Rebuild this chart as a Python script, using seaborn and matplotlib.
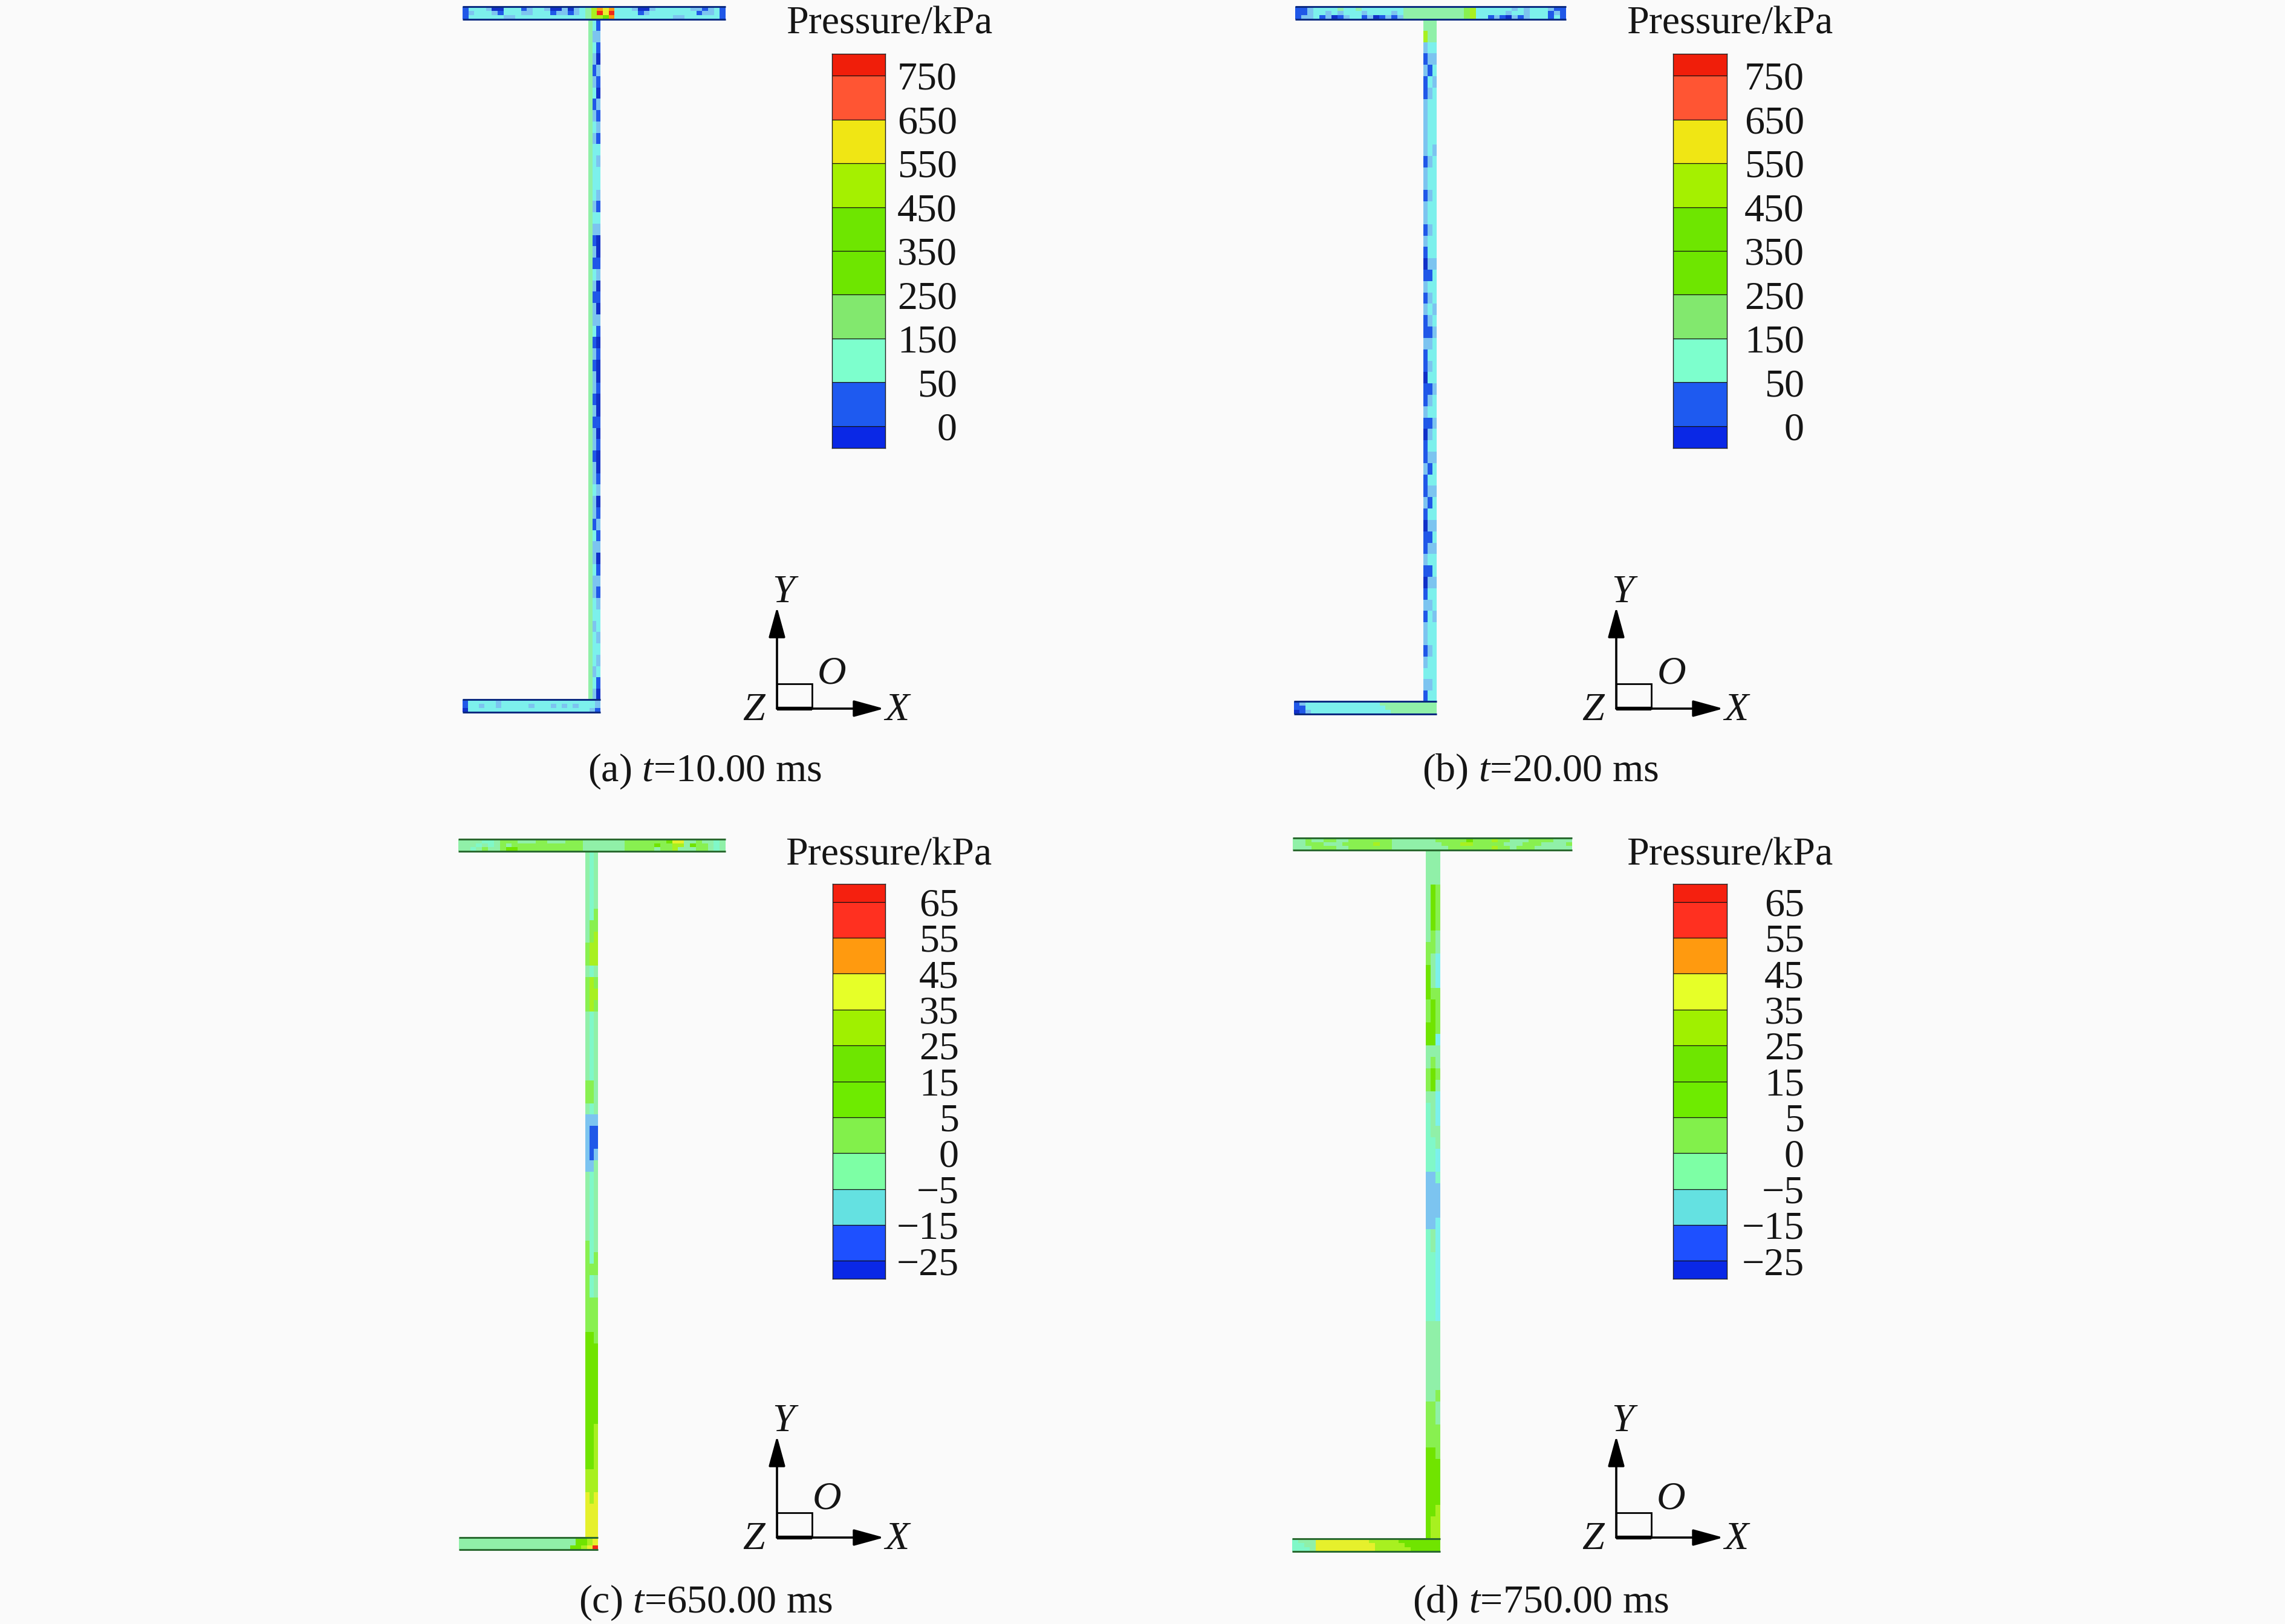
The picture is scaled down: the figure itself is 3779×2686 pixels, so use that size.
import numpy as np
import matplotlib
matplotlib.use("Agg")
import matplotlib.pyplot as plt
from matplotlib.colors import ListedColormap
from matplotlib.patches import Rectangle
from matplotlib.transforms import ScaledTranslation
import seaborn as sns

# -------------------
# DATA
# -------------------
labels_high = ["750", "650", "550", "450", "350", "250", "150", "50", "0"]
labels_low = ["65", "55", "45", "35", "25", "15", "5", "0", "\u22125", "\u221215", "\u221225"]

bands_high = ["#F01E0A", "#FF5533", "#F0E614", "#A5F000", "#6EE600",
              "#6EE600", "#82E86E", "#7DFFCD", "#1E5AF0", "#0A28E6"]
bands_low = ["#F5200F", "#FF3020", "#FF9A0F", "#E6FF28", "#A0F000", "#6EE600",
             "#6EEB00", "#82F04B", "#7DFFA5", "#64E1E1", "#1E50FF", "#0A28E6"]

# field level codes, low pressure to high pressure
field_codes = "DBSCTMGVLYOR"
field_colors = ["#1030C8", "#2058E8", "#7CC4F0", "#7CF0EC", "#80F8C8", "#90F0A8",
                "#88F050", "#70E400", "#A8F020", "#E6F02C", "#FF9A10", "#F02A18"]

# flanges: rows left to right, web: columns top to bottom
top_a = ["BCCCS DDCCC BSCCS DDSDS CMLOY OCCCS DDSCC CCCCS SBSCB",
         "BSCCC SBCCC SSCCC BSSBS CMLRY RCCCC BSCCC CCCCC BSSCB",
         "BCCCC CCSSC CCCCC CCCCC CMLLV OCCCC CCCCC CSSCC CCCCB"]
web_a = ["MMMMMMMMMM MMMMMMMMMM MMMMMMMMMM MMMMMMMMMM MMMMMMMMMM MMMMMMMMMM",
         "CSCSBSCBSC SCCCCCSCSB SBCSBSSCBS BSSBSBSSBS SCSSBCSSCS SCCSCCCSCS",
         "BSBDSBDSBS BCSCCSBCSD DBSDBDSBDB DDBDDBDBDD BSDBSBSDBS BSCCSCSCBD"]
bot_a = ["BCCCC CSCCC CCCCC CCCCC CCCCS",
         "BCCSC CSCCC CCSCC CSCSC SCCCS",
         "DCCCC CCCCC CCCCC CCCCC CCCSB"]

top_b = ["BBSCC CCMCC MCCCC CCCMM MMMMM MMMGL CCCCC CSCSC CCSBB",
         "BBSCC SCSCC CSCCC CSCMM MMMMM MMMGL CCCCC SCCSC CCBSB",
         "BSSCB SDBSC CBSDB SBSMM MMMMM MMMGL CCBSB DSBSC CCBCB"]
web_b = ["MLSBSBBSSS SSBSSBSSBS BDBSBSBBSB BDBBSBDBBS BBSBDBBSBD BSBSSBSCSB",
         "MMCSBCSCCC CCSCCSCCSC CSBCSCSBSC SCBSCBSCSB CSBCSBSCBS CSCCCSCCSC",
         "MMCSCSCCCC CSCCCCCCCC CSCCCSCSCC CCSCCSCCSC CSCCSCSCCS CCSCCCCCCC"]
bot_b = ["BSCCC CCCCC CCCCC MMMMM MMMMM",
         "BBCCC CCCCC CCCCC CMMMM MMMMM",
         "DBSCC CCCCC CCCCC CCMMM MMMMM"]

top_c = ["MMMMT TMGGG MMMGG MMMGG GMMMM MMMGG GGGGG VYYMM GMMTM",
         "MMMTM TMGMG GGGGG GGGGG GMMMM MMMGG GGGVG GLLMV GGMTM",
         "MMTMG MMGVV GGGGG GGGGG GMMMM MMMGG GGGMG GLMMM GGMTM"]
web_c = ["MMMMMMMMGG MGGGMMMMMM GGMSSSSSMM MMMMGGGGGG GGVVVVVVVV VVVVLLYYYY",
         "TTTTTTGGLL TLLLTTTTTT GGTSBBBSTT TTTTTTGTTG GGVVVVVVVV VVVVLLLYYY",
         "MMMMMGGLLL MGLGMMMMMM MMMSBBSMMM MMMMMGGMMG GGGVVVVVVV LLLLLLYYYY"]
bot_c = ["MMMMM MMMMM MMMMM MMMMM MVVLY",
         "MMMMM MMMMM MMMMM MMMMM MVVLY",
         "MMMMM MMMMM MMMMM MMMMM VVLYR"]

top_d = ["MMGMM GGMMG GGGGG GMMMM MMMGG GGGVG GGLGG MMMGG GGMMM",
         "MMGGG MMMGG GGGLG GMMMM MMMMG GGLLG GGGGM MMGGG MMMMG",
         "MMMGG GGMMG GGGGG GMMMM MMMMM GGGGG GGLGG MGGGM MMMMM"]
web_d = ["MMMMMMMMGG VVVGGVVMMG GMTTTTTTSS SSSTTTTTTT TMMMMMMMGG GGVVVVVVVV",
         "MMMVVVVGGM MMGVVVVMGV VMMMMTTTSS SSSMMTTTTT TMMMMMMMGG GGVVVVVVLL",
         "MMMGGGGMMC CCGGGGCMMG MCCCMMCCTS SSCCCCCCCC CMMMMMMGMM GGGVVVVLLL"]
bot_d = ["TMMMY YYYYY YYYLL LLLVV VVVVV",
         "TTMMY YYYYY YYYYL LLLLV VVVVV",
         "TTTMY YYYYY YYYYL LLLLL VVVVV"]

captions = ["(a) $\\mathit{t}$=10.00 ms", "(b) $\\mathit{t}$=20.00 ms",
            "(c) $\\mathit{t}$=650.00 ms", "(d) $\\mathit{t}$=750.00 ms"]

# -------------------
# STYLE
# -------------------
W, H = 3780, 2686
BG = "#FAFAFA"
INK = "#151515"
FS = 47.5

sns.set_theme(style="white")
plt.rcParams["font.family"] = ["Liberation Serif", "DejaVu Serif"]
plt.rcParams["mathtext.fontset"] = "custom"
plt.rcParams["mathtext.it"] = "Liberation Serif:italic"
plt.rcParams["mathtext.rm"] = "Liberation Serif"

fig = plt.figure(figsize=(W / 100, H / 100), dpi=100, facecolor=BG)
field_cmap = ListedColormap(field_colors)


def px_axes(x0, y0, x1, y1):
    # axes from picture pixels, y counted from the top
    ax = fig.add_axes([x0 / W, 1 - y1 / H, (x1 - x0) / W, (y1 - y0) / H])
    ax.patch.set_alpha(0)
    return ax


def decode(rows):
    return np.array([[field_codes.index(c) for c in r if c != " "] for r in rows])


def draw_field(box, grid, edge=None):
    ax = px_axes(*box)
    sns.heatmap(grid, ax=ax, cmap=field_cmap, vmin=-0.5, vmax=len(field_codes) - 0.5,
                cbar=False, xticklabels=False, yticklabels=False)
    if edge:
        n = grid.shape[0]
        ax.hlines([0, n], 0, grid.shape[1], colors=edge, lw=2.2, clip_on=False)
    return ax


def draw_legend(box, bands, labels, tick_right):
    ax = px_axes(*box)
    n = len(bands)
    # end bands are half as tall as the others
    cells = np.repeat(np.arange(n), [1] + [2] * (n - 2) + [1]).reshape(-1, 1)
    sns.heatmap(cells, ax=ax, cmap=ListedColormap(bands), vmin=-0.5, vmax=n - 0.5,
                cbar=False, xticklabels=False, yticklabels=False)
    marks = np.arange(1, 2 * n - 2, 2)
    ax.hlines(marks, 0, 1, colors="#101010", lw=0.9)
    for side in ax.spines.values():
        side.set_visible(True)
        side.set_color("#202020")
        side.set_linewidth(1.0)
    ax.yaxis.tick_right()
    ax.set_yticks(marks)
    pad = (tick_right - box[2]) / 100 * 72
    ax.set_yticklabels(labels, fontsize=FS, color=INK, ha="right", va="center", rotation=0)
    ax.tick_params(axis="y", length=0, pad=pad, right=False)
    # digits sit a little under the band line
    shift = ScaledTranslation(0, -7 / 100, fig.dpi_scale_trans)
    for lab in ax.get_yticklabels():
        lab.set_transform(lab.get_transform() + shift)


# -------------------
# MEMBERS AND LEGENDS
# -------------------
# top flange, web, bottom flange, line colour of the flanges
members = [
    ((765, 11, 1200, 32), (973, 32, 993, 1158), (765, 1157, 993, 1178),
     top_a, web_a, bot_a, "#0A2A80"),
    ((2142, 11, 2590, 32), (2354, 32, 2376, 1161), (2140, 1160, 2376, 1181),
     top_b, web_b, bot_b, "#0A2A80"),
    ((758, 1388, 1200, 1408), (968, 1408, 989, 2544), (759, 2543, 989, 2563),
     top_c, web_c, bot_c, "#2A6A30"),
    ((2138, 1386, 2600, 1406), (2358, 1406, 2382, 2546), (2137, 2545, 2382, 2566),
     top_d, web_d, bot_d, "#2A6A30"),
]
for top_box, web_box, bot_box, top, web, bot, edge in members:
    draw_field(web_box, decode(web).T)
    draw_field(top_box, decode(top), edge)
    draw_field(bot_box, decode(bot), edge)

draw_legend((1376, 89, 1464, 741), bands_high, labels_high, 1583)
draw_legend((2767, 89, 2856, 741), bands_high, labels_high, 2984)
draw_legend((1377, 1462, 1464, 2115), bands_low, labels_low, 1586)
draw_legend((2767, 1462, 2856, 2115), bands_low, labels_low, 2984)

# -------------------
# TEXT AND AXIS TRIADS
# -------------------
over = fig.add_axes([0, 0, 1, 1])
over.set_xlim(0, W)
over.set_ylim(H, 0)
over.axis("off")

for x, y in [(1471, 55), (2861, 55), (1470, 1430), (2861, 1430)]:
    over.text(x, y, "Pressure/kPa", fontsize=FS, color=INK, ha="center", va="baseline")

for (x, y), cap in zip([(1166, 1292), (2547, 1292), (1167, 2667), (2548, 2667)], captions):
    over.text(x, y, cap, fontsize=FS, color=INK, ha="center", va="baseline")


def arrow(x0, y0, x1, y1):
    over.annotate("", xy=(x1, y1), xytext=(x0, y0),
                  arrowprops=dict(arrowstyle="-|>,head_length=31,head_width=8.5",
                                  mutation_scale=1, shrinkA=0, shrinkB=0,
                                  color="black", lw=2.6))


# origin x, origin y, O offset x, O offset y
triads = [(1285, 1172, 90, -57), (2673, 1172, 91, -57),
          (1285, 2543, 82, -63), (2673, 2543, 90, -63)]
for ox, oy, dx, dy in triads:
    arrow(ox, oy, ox, oy - 168)
    arrow(ox, oy, ox + 177, oy)
    over.add_patch(Rectangle((ox, oy - 41), 58, 41, fill=False, ec="black", lw=2))
    over.plot([ox, ox + 58], [oy, oy], color="black", lw=4.5, solid_capstyle="butt")
    style = dict(fontsize=FS, style="italic", color=INK, ha="center", va="center")
    over.text(ox + 11, oy - 192, "Y", **style)
    over.text(ox + dx, oy + dy, "O", **style)
    over.text(ox - 38, oy + 3, "Z", **style)
    over.text(ox + 198, oy + 3, "X", **style)

fig.savefig("out.png", dpi=100, facecolor=BG)
